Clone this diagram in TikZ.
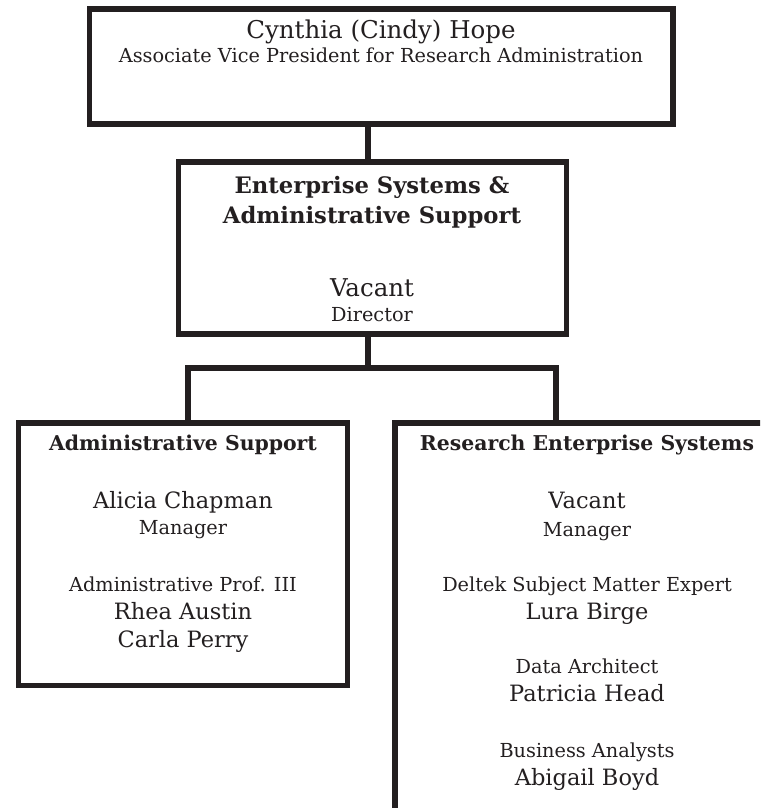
\documentclass[tikz,border=0pt]{standalone}
\usepackage{fontspec}
\setmainfont{DejaVu Serif}
\usetikzlibrary{positioning}
\definecolor{ink}{RGB}{35,31,32}

\begin{document}
\begin{tikzpicture}[x=1pt,y=-1pt,
box/.style={draw=ink,line width=5.5pt,rectangle,inner sep=0pt},
link/.style={draw=ink,line width=5.5pt},
pname/.style={font=\fontsize{22.5}{26}\selectfont,text=ink,anchor=base,inner sep=0pt},
topname/.style={pname,font=\fontsize{24.5}{28}\selectfont},
prole/.style={font=\fontsize{19.3}{22}\selectfont,text=ink,anchor=base,inner sep=0pt},
unit/.style={font=\bfseries\fontsize{20.4}{24}\selectfont,text=ink,anchor=base,inner sep=0pt},
bigunit/.style={font=\bfseries\fontsize{22.7}{26}\selectfont,text=ink,anchor=base,inner sep=0pt}]
\clip (0,0) rectangle (760,808);

% boxes
\node (avp) [box,minimum width=583.5pt,minimum height=115pt] at (381.25,66.5) {};
\node (esas) [box,minimum width=388pt,minimum height=172pt] at (372.6,248) {};
\node (admin) [box,minimum width=329pt,minimum height=262.5pt] at (183,554.25) {};
\node (res) [box,minimum width=385pt,minimum height=440pt] at (587.5,643) {};

% connectors
\coordinate (spine) at (368,0);
\coordinate (admdrop) at (188,368);
\coordinate (resdrop) at (556,368);
\draw [link] (spine |- avp.south) -- (spine |- esas.north);
\draw [link] (spine |- esas.south) -- (spine |- admdrop);
\draw [link] (admdrop |- admin.north) -- (admdrop) -- (resdrop) -- (resdrop |- res.north);

% top
\node (avpname) [topname] at (381,38) {Cynthia (Cindy) Hope};
\node (avprole) [prole] at (381,63) {Associate Vice President for Research Administration};

% middle
\node (esashead1) [bigunit] at (372,193) {Enterprise Systems \&};
\node (esashead2) [bigunit] at (372,223) {Administrative Support};
\node (esasname) [topname] at (372,296) {Vacant};
\node (esasrole) [prole] at (372,321) {Director};

% left
\node (adminhead) [unit] at (183,450) {Administrative Support};
\node (adminname) [pname] at (183,508) {Alicia Chapman};
\node (adminrole) [prole] at (183,534) {Manager};
\node (profrole) [prole] at (183,591) {Administrative Prof. III};
\node (profname1) [pname] at (183,619) {Rhea Austin};
\node (profname2) [pname] at (183,647) {Carla Perry};

% right
\node (reshead) [unit] at (587,450) {Research Enterprise Systems};
\node (resname) [pname] at (587,508) {Vacant};
\node (resrole) [prole] at (587,536) {Manager};
\node (smerole) [prole] at (587,591) {Deltek Subject Matter Expert};
\node (smename) [pname] at (587,619) {Lura Birge};
\node (archrole) [prole] at (587,673) {Data Architect};
\node (archname) [pname] at (587,701) {Patricia Head};
\node (barole) [prole] at (587,757) {Business Analysts};
\node (baname) [pname] at (587,785) {Abigail Boyd};
\end{tikzpicture}
\end{document}
